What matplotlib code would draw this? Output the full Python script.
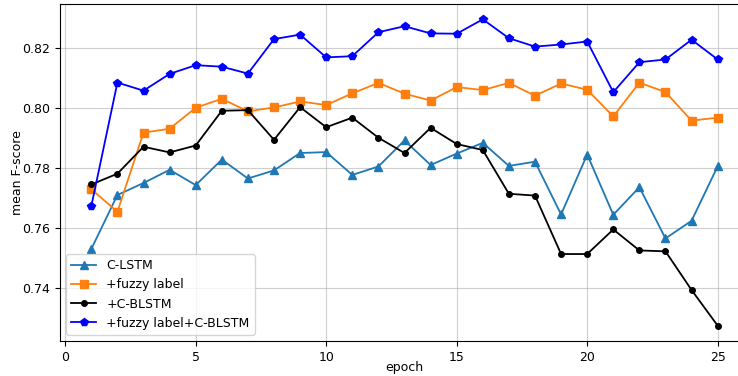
import numpy as np
import matplotlib
matplotlib.use("Agg")
import matplotlib.pyplot as plt

epochs = list(range(1, 26))

c_lstm = [0.7529, 0.7709, 0.7749, 0.7793, 0.7742, 0.7827, 0.7764, 0.7791, 0.7849, 0.7852,
          0.7776, 0.7804, 0.7891, 0.7809, 0.7847, 0.7883, 0.7806, 0.7820, 0.7644, 0.7844,
          0.7643, 0.7735, 0.7564, 0.7623, 0.7805]
fuzzy = [0.7728, 0.7653, 0.7917, 0.7930, 0.8000, 0.8030, 0.7988, 0.8001, 0.8021, 0.8009,
         0.8048, 0.8083, 0.8047, 0.8024, 0.8069, 0.8059, 0.8083, 0.8040, 0.8081, 0.8060,
         0.7971, 0.8084, 0.8052, 0.7957, 0.7967]
c_blstm = [0.7744, 0.7780, 0.7870, 0.7851, 0.7874, 0.7990, 0.7992, 0.7893, 0.8002, 0.7935,
           0.7967, 0.7900, 0.7849, 0.7933, 0.7879, 0.7859, 0.7713, 0.7707, 0.7512, 0.7512,
           0.7594, 0.7524, 0.7521, 0.7392, 0.7273]
fuzzy_blstm = [0.7672, 0.8084, 0.8057, 0.8113, 0.8142, 0.8137, 0.8114, 0.8229, 0.8244, 0.8168,
               0.8172, 0.8252, 0.8272, 0.8248, 0.8247, 0.8295, 0.8232, 0.8204, 0.8211, 0.8221,
               0.8052, 0.8152, 0.8161, 0.8227, 0.8161]

plt.rcParams['font.size'] = 9

fig = plt.figure(figsize=(7.38, 3.76), dpi=100)
# right edge of the axes lies past the figure edge, like the reference crop
ax = fig.add_axes([60 / 738, 35 / 376, 689 / 738, 337 / 376])

ax.plot(epochs, c_lstm, color='#1f77b4', marker='^', markersize=5.5, linewidth=1.3, label='C-LSTM')
ax.plot(epochs, fuzzy, color='#ff7f0e', marker='s', markersize=5.5, linewidth=1.3, label='+fuzzy label')
ax.plot(epochs, c_blstm, color='black', marker='o', markersize=4, linewidth=1.3, label='+C-BLSTM')
ax.plot(epochs, fuzzy_blstm, color='blue', marker='p', markersize=6, linewidth=1.3, label='+fuzzy label+C-BLSTM')

ax.set_xlabel('epoch', labelpad=-2)
ax.set_ylabel('mean F-score', labelpad=-1)
ax.set_xticks([0, 5, 10, 15, 20, 25])
ax.set_yticks([0.74, 0.76, 0.78, 0.80, 0.82])
ax.grid(True, color='#b0b0b0', alpha=0.6)
ax.legend(loc='lower left')

fig.savefig('out.png', dpi=100)
